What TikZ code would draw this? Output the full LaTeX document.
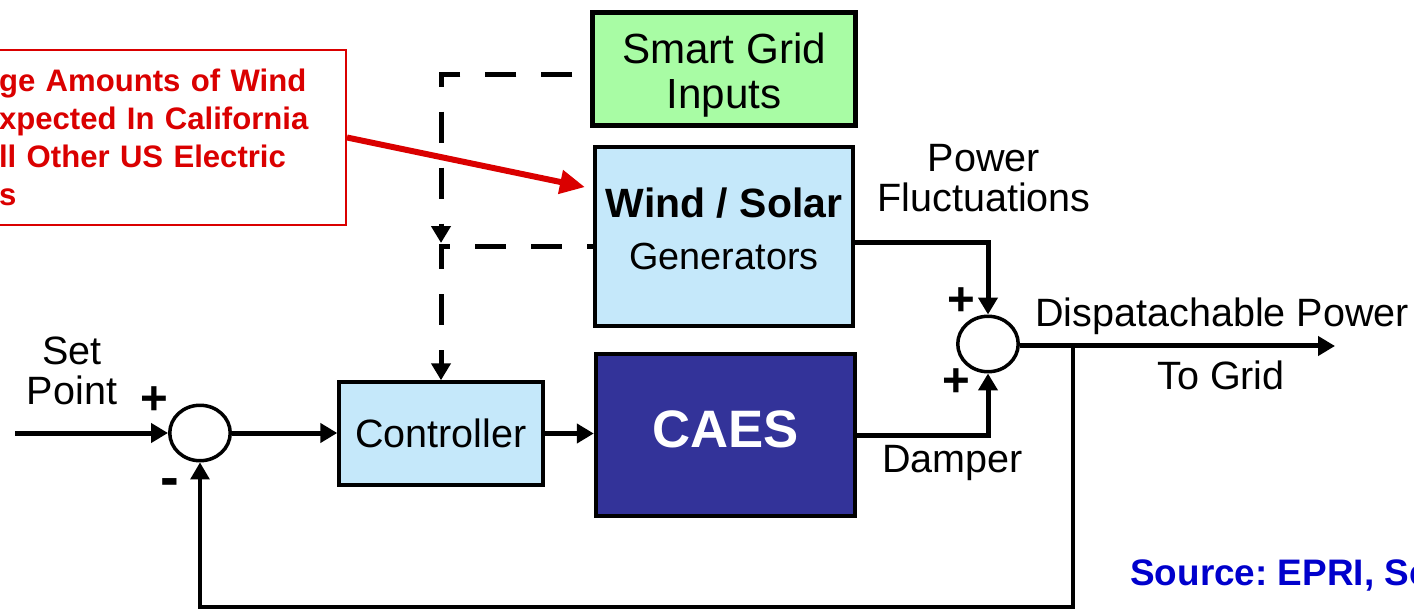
\documentclass[tikz,border=0pt]{standalone}
\usepackage{fontspec}
\setmainfont{Liberation Sans}
\usetikzlibrary{arrows.meta,shapes.geometric}
\definecolor{gridgreen}{RGB}{168,252,164}
\definecolor{boxblue}{RGB}{197,232,250}
\definecolor{caesblue}{RGB}{51,51,153}
\definecolor{notered}{RGB}{218,0,0}
\definecolor{srcblue}{RGB}{0,0,204}

\begin{document}
\frenchspacing
\begin{tikzpicture}[x=0.02cm, y=-0.02cm,
	blk/.style={draw=black, line width=0.09cm, fill=boxblue, align=center, inner sep=0pt},
	sumpt/.style={ellipse, draw=black, line width=0.07cm, fill=white, minimum width=1.21cm, minimum height=1.11cm, inner sep=0pt},
	lbl/.style={font=\fontsize{22.5}{22.8}\selectfont, align=center, inner sep=0pt},
	sgn/.style={font=\fontsize{27}{27}\selectfont\bfseries, inner sep=0pt},
	flow/.style={line width=0.1cm, -{Triangle[length=0.34cm, width=0.38cm]}},
	ctl/.style={line width=0.1cm, dash pattern=on 0.62cm off 0.5cm, -{Triangle[length=0.34cm, width=0.38cm]}}]
	\useasboundingbox (0,0) rectangle (1414,611);
	\node[blk, fill=gridgreen, minimum width=5.26cm, minimum height=2.26cm, text height=1.74cm,
		font=\fontsize{24}{25.6}\selectfont] (smart) at (724,69) {Smart Grid\\Inputs};
	\node[blk, minimum width=5.16cm, minimum height=3.58cm, text depth=0.3cm,
		font=\fontsize{21.5}{29.6}\selectfont] (wind) at (724,236.5) {{\fontsize{23.3}{29.6}\selectfont\bfseries Wind / Solar}\\Generators};
	\node[blk, line width=0.07cm, minimum width=4.08cm, minimum height=2.06cm,
		font=\fontsize{22.5}{27}\selectfont] (ctrl) at (441,433.5) {Controller};
	\node[blk, fill=caesblue, text=white, minimum width=5.18cm, minimum height=3.24cm, text depth=0.24cm,
		font=\fontsize{30}{36}\selectfont\bfseries] (caes) at (725.5,435) {CAES};
	\node[sumpt] (sum1) at (200,433) {};
	\node[sumpt] (sum2) at (988,344) {};
	\node[draw=notered, line width=0.04cm, text=notered, font=\fontsize{17.7}{21.6}\selectfont\bfseries,
		align=left, text width=6.64cm, inner xsep=0.3cm, minimum height=3.5cm, anchor=east] (note) at (347,137.5)
		{ge Amounts of Wind\\xpected In California\\ll Other US Electric\\s};

	\coordinate (spin) at (15,433);
	\coordinate (grid) at (1335,346);
	\coordinate (tap) at (1073,346);
	\coordinate (bot) at (1073,607);
	\coordinate (dj) at (441,247);

	\draw[flow] (spin) -- (sum1);
	\draw[flow] (sum1) -- (sum1 -| ctrl.west);
	\draw[flow] (ctrl.east) -- (ctrl.east -| caes.west);
	\draw[flow] (caes.east) -| (sum2.south);
	\draw[flow] ([yshift=-0.12cm]wind.east) -| (sum2.north);
	\draw[flow] (sum2.east |- grid) -- (grid);
	\draw[flow, line width=0.065cm] (tap) -- (bot) -| (sum1.south);
	\draw[ctl, dash phase=0.76cm, shorten >=0.08cm] ([yshift=-0.12cm]smart.west) -| (dj);
	\draw[ctl, dash phase=0.5cm] ([yshift=-0.21cm]wind.west) -| (ctrl.north);
	\draw[notered, line width=0.12cm, shorten >=0.16cm, -{Triangle[length=0.5cm, width=0.46cm]}] (note.east) -- (wind.160.5);

	\node[sgn] (p1) at (154,401) {+};
	\node[sgn, font=\fontsize{32}{32}\selectfont\bfseries] (m1) at (170,488) {-};
	\node[sgn] (p2) at (961,302) {+};
	\node[sgn] (p3) at (956,383) {+};
	\node[lbl] (setpt) at (72,371) {Set\\Point};
	\node[lbl] (fluct) at (984,178) {Power\\Fluctuations};
	\node[lbl, anchor=base west] (disp) at (1035,327) {Dispatachable Power};
	\node[lbl, anchor=base west] (togrid) at (1157,390) {To Grid};
	\node[lbl, anchor=base west] (damp) at (882,472) {Damper};
	\node[font=\fontsize{21}{22}\selectfont\bfseries, text=srcblue, anchor=base west, inner sep=0pt] (srcnote) at (1130,585) {Source: EPRI, Sc};
\end{tikzpicture}
\end{document}
